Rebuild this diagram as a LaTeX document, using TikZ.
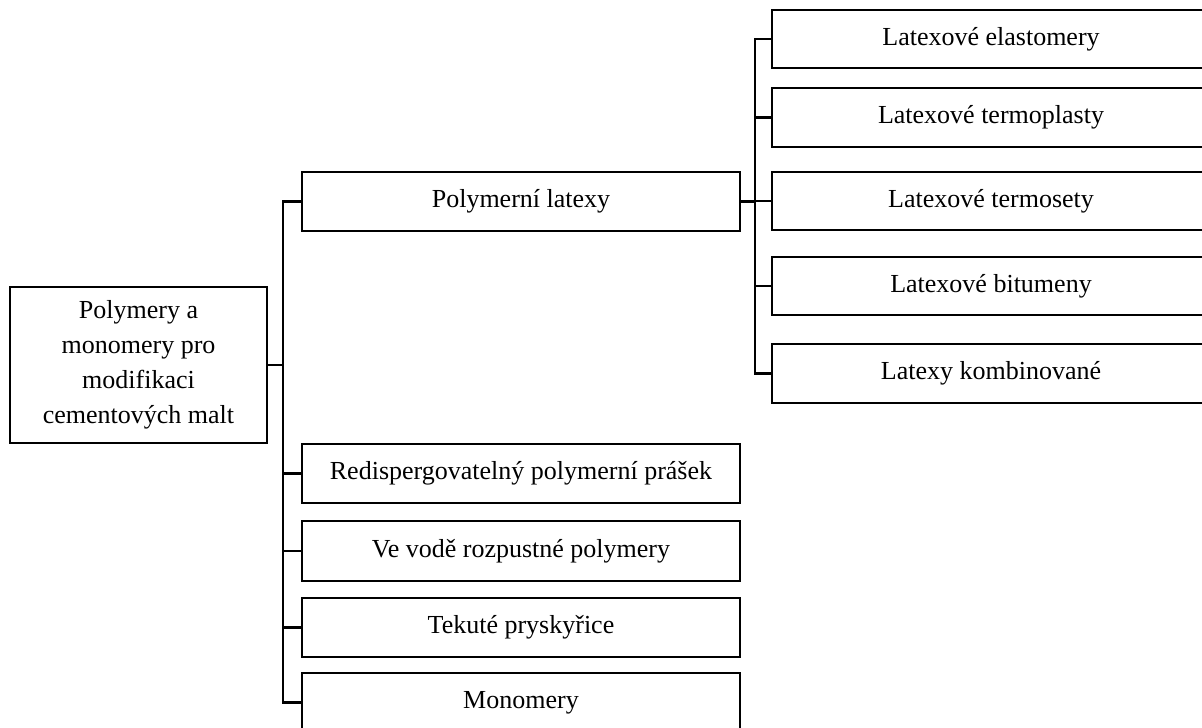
\documentclass[tikz,border=0pt]{standalone}
\usepackage{fontspec}
\setmainfont{Liberation Serif}
\begin{document}
\begin{tikzpicture}[x=1pt,y=-1pt,
  box/.style={draw,line width=2.5pt,inner sep=0pt,minimum width=438pt,minimum height=59pt,
    font=\fontsize{26}{35}\selectfont,align=center},
  conn/.style={line width=2.5pt,line join=miter}]
\useasboundingbox (0,0) rectangle (1202,728);
\clip (0,0) rectangle (1202,728);
\node[box,minimum width=257pt,minimum height=156pt] (root) at (138.5,365) {Polymery a\\monomery pro\\modifikaci\\cementových malt};
\node[box] (pl) at (521,201.5) {Polymerní latexy};
\node[box] (rd) at (521,473.5) {Redispergovatelný polymerní prášek};
\node[box,minimum height=60pt] (vv) at (521,551) {Ve vodě rozpustné polymery};
\node[box] (tp) at (521,627.5) {Tekuté pryskyřice};
\node[box] (mo) at (521,702.5) {Monomery};
\node[box,minimum height=58pt] (el) at (991,39) {Latexové elastomery};
\node[box] (tpl) at (991,117.5) {Latexové termoplasty};
\node[box,minimum height=58pt] (ts) at (991,201) {Latexové termosety};
\node[box,minimum height=58pt] (bi) at (991,286) {Latexové bitumeny};
\node[box] (ko) at (991,373.5) {Latexy kombinované};
\coordinate (s1) at (283,0);
\coordinate (s2) at (755,0);
\draw[conn] (root.east) -- (root.east -| s1);
\draw[conn] (pl.west) -| (s1 |- mo.west) -- (mo.west);
\foreach \n in {rd,vv,tp} \draw[conn] (\n.west) -- (\n.west -| s1);
\draw[conn] (pl.east) -- (pl.east -| s2);
\draw[conn] (el.west) -| (s2 |- ko.west) -- (ko.west);
\foreach \n in {tpl,ts,bi} \draw[conn] (\n.west) -- (\n.west -| s2);
\end{tikzpicture}
\end{document}
